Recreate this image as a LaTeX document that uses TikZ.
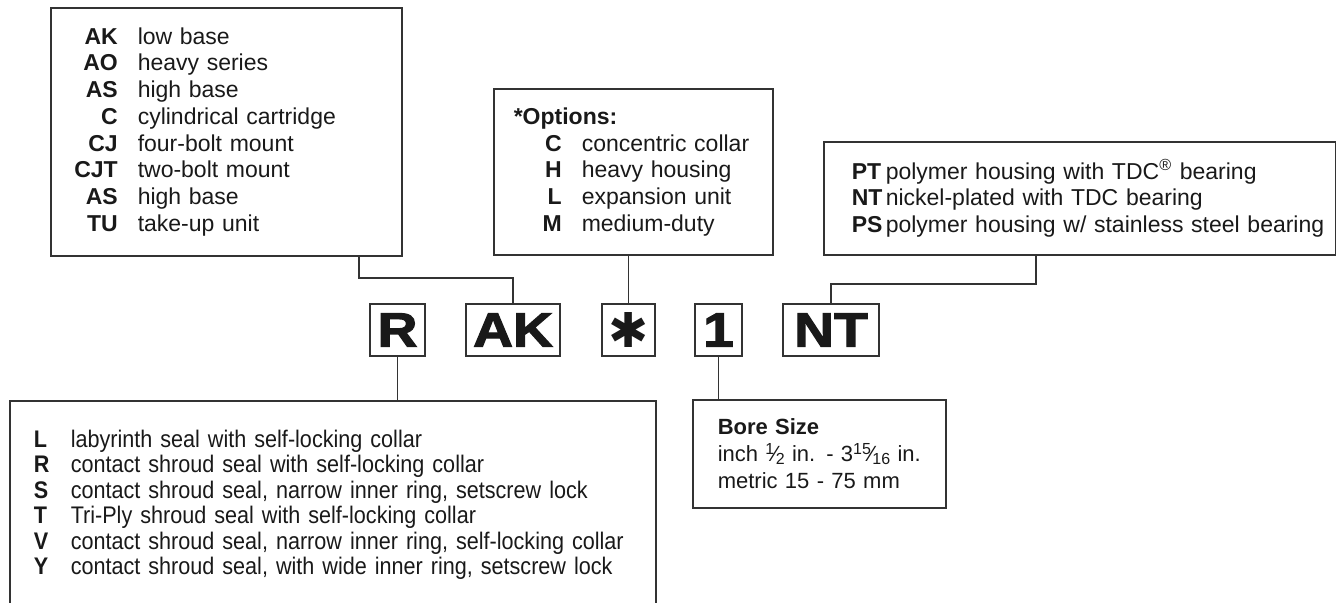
\documentclass[tikz,border=0pt]{standalone}
\usepackage{fontspec}
\setmainfont{Liberation Sans}
\newfontface\bigcode{Liberation Sans Bold}[FakeBold=2.5,FakeStretch=1.15]
\newfontface\starfont{DejaVu Sans Bold}
\newfontfamily\sealfont{Liberation Sans}[FakeStretch=0.9]
\newcommand{\rline}[3][21.5pt]{\mbox{\makebox[#1][r]{\bfseries #2}\hspace{10pt}#3}}
\newcommand{\lline}[3][17pt]{\mbox{\makebox[#1][l]{\bfseries #2}#3}}
\newcommand{\frc}[2]{\raisebox{0.6ex}{\footnotesize #1}\kern-0.05em\char"2044\kern-0.05em\raisebox{-0.25ex}{\footnotesize #2}}
\tikzset{
  listbox/.style={draw=black!80,line width=0.75pt,anchor=north west,align=left,inner ysep=0pt,text=black!90,font=\fontsize{11.5}{13.35}\selectfont},
  codebox/.style={draw=black!80,line width=0.75pt,minimum height=26pt,inner sep=0pt,text=black!90,font=\bigcode\fontsize{24}{24}\selectfont},
  link/.style={draw=black!80,line width=0.75pt}
}
\begin{document}
\begin{tikzpicture}[x=0.5pt,y=-0.5pt]
\useasboundingbox (0,0) rectangle (1336,602);
% lists
\node[listbox,inner xsep=12pt,text width=151.5pt,minimum height=124pt] (typebox) at (50,7)
  {\rline{AK}{low base}\\ \rline{AO}{heavy series}\\ \rline{AS}{high base}\\ \rline{C}{cylindrical cartridge}\\
   \rline{CJ}{four-bolt mount}\\ \rline{CJT}{two-bolt mount}\\ \rline{AS}{high base}\\ \rline{TU}{take-up unit}};
\node[listbox,inner xsep=10pt,text width=119.5pt,minimum height=83pt] (optbox) at (493,88)
  {\textbf{*Options:}\\ \rline[24pt]{C}{concentric collar}\\ \rline[24pt]{H}{heavy housing}\\
   \rline[24pt]{L}{expansion unit}\\ \rline[24pt]{M}{medium-duty}};
\node[listbox,inner xsep=14pt,text width=227.75pt,minimum height=56.5pt] (housebox) at (823,141)
  {\lline{PT}{polymer housing with TDC\textsuperscript{®} bearing}\\ \lline{NT}{nickel-plated with TDC bearing}\\
   \lline{PS}{polymer housing w/ stainless steel bearing}};
\node[listbox,inner xsep=12pt,text width=299pt,minimum height=104pt,font=\sealfont\fontsize{12}{12.7}\selectfont] (sealbox) at (9,400)
  {\lline[18.5pt]{L}{labyrinth seal with self-locking collar}\\
   \lline[18.5pt]{R}{contact shroud seal with self-locking collar}\\
   \lline[18.5pt]{S}{contact shroud seal, narrow inner ring, setscrew lock}\\
   \lline[18.5pt]{T}{Tri-Ply shroud seal with self-locking collar}\\
   \lline[18.5pt]{V}{contact shroud seal, narrow inner ring, self-locking collar}\\
   \lline[18.5pt]{Y}{contact shroud seal, with wide inner ring, setscrew lock}};
\node[listbox,inner xsep=12.5pt,text width=101.5pt,minimum height=54pt,font=\fontsize{11}{13.5}\selectfont] (borebox) at (692,399)
  {\textbf{Bore Size}\\ \mbox{inch \frc{1}{2} in. - 3\frc{15}{16} in.}\\ metric 15 - 75 mm};
% part number
\node[codebox,minimum width=27.5pt] (codeR) at (397.5,330) {R};
\node[codebox,minimum width=47pt] (codeAK) at (513,330) {AK};
\node[codebox,minimum width=26.5pt,text height=0pt,text depth=0pt,font=\starfont\fontsize{24}{24}\selectfont] (codeStar) at (628.5,330) {\raisebox{-0.36em}{✱}};
\node[codebox,minimum width=23.5pt] (codeOne) at (718.5,330) {1};
\node[codebox,minimum width=48pt] (codeNT) at (831,330) {NT};
% connectors
\coordinate (tj) at (359,278);
\coordinate (hj) at (1036,284);
\draw[link] (typebox.south -| tj) -- (tj) -| (codeAK.north);
\draw[link] (optbox.south -| codeStar.north) -- (codeStar.north);
\draw[link] (housebox.south -| hj) -- (hj) -| (codeNT.north);
\draw[link] (codeR.south) -- (sealbox.north -| codeR.south);
\draw[link] (codeOne.south) -- (borebox.north -| codeOne.south);
\end{tikzpicture}
\end{document}
